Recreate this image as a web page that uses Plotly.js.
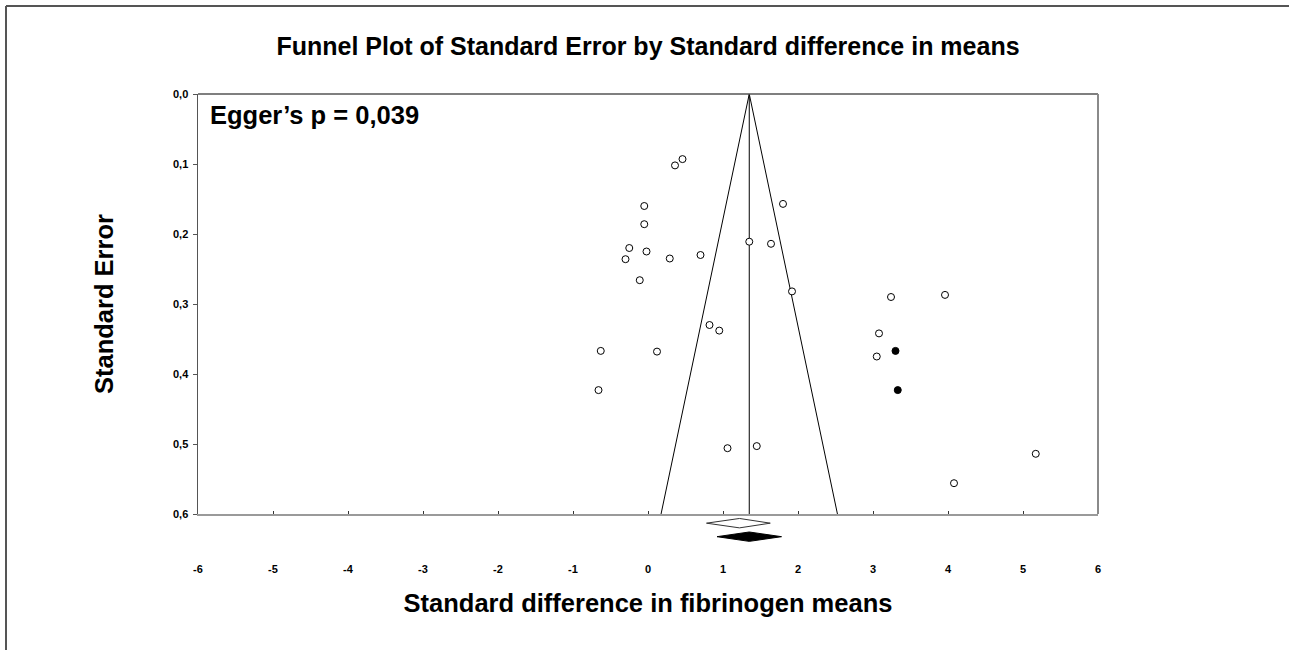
<!DOCTYPE html>
<html>
<head>
<meta charset="utf-8">
<script src="https://cdn.plot.ly/plotly-3.0.1.min.js"></script>
<style>html,body{margin:0;padding:0;background:#fff;}#chart{width:1289px;height:650px;}</style>
</head>
<body>
<div id="chart"></div>
<script>
// Observed studies: standard difference in means and standard error
var obsEffect = [0.46, 0.36, -0.05, 1.80, -0.05, 1.35, 1.64, -0.25, -0.02, -0.30, 0.29, 0.70, -0.11, 1.92,
                 0.82, 0.95, -0.63, 0.12, -0.66, 1.06, 1.45, 3.24, 3.96, 3.08, 3.05, 5.17, 4.08];
var obsSE     = [0.093, 0.102, 0.160, 0.157, 0.186, 0.211, 0.214, 0.220, 0.225, 0.236, 0.235, 0.230, 0.266, 0.282,
                 0.330, 0.338, 0.367, 0.368, 0.423, 0.506, 0.503, 0.290, 0.287, 0.342, 0.375, 0.514, 0.556];
// Imputed studies (trim and fill)
var impEffect = [3.30, 3.33];
var impSE     = [0.367, 0.423];
// Combined effect (funnel centre) and summary diamonds [lower, point, upper]
var funnelCenter = 1.35;
var zCrit = 1.96;
var seMax = 0.6;
var observedSummary = [0.78, 1.22, 1.63];
var adjustedSummary = [0.92, 1.35, 1.78];
var diamondRowObserved = 0.6131;
var diamondRowAdjusted = 0.6324;
var diamondHalfHeight = 0.0067;
// Tick labels
var xTickVals = [-6, -5, -4, -3, -2, -1, 0, 1, 2, 3, 4, 5, 6];
var xTickText = ['-6', '-5', '-4', '-3', '-2', '-1', '0', '1', '2', '3', '4', '5', '6'];
var yTickVals = [0, 0.1, 0.2, 0.3, 0.4, 0.5, 0.6];
var yTickText = ['0,0', '0,1', '0,2', '0,3', '0,4', '0,5', '0,6'];

function diamond(s, row, h) {
  return {x: [s[0], s[1], s[2], s[1], s[0]], y: [row, row - h, row, row + h, row]};
}
var dObs = diamond(observedSummary, diamondRowObserved, diamondHalfHeight);
var dAdj = diamond(adjustedSummary, diamondRowAdjusted, diamondHalfHeight);

var traces = [
  {x: [funnelCenter - zCrit * seMax, funnelCenter, funnelCenter + zCrit * seMax], y: [seMax, 0, seMax],
   mode: 'lines', line: {color: '#000', width: 1}, hoverinfo: 'skip', xaxis: 'x', yaxis: 'y'},
  {x: [funnelCenter, funnelCenter], y: [0, seMax], mode: 'lines', line: {color: '#000', width: 1},
   hoverinfo: 'skip', xaxis: 'x', yaxis: 'y'},
  {x: obsEffect, y: obsSE, mode: 'markers', type: 'scatter',
   marker: {symbol: 'circle', size: 7, color: '#fff', line: {color: '#000', width: 1}}, xaxis: 'x', yaxis: 'y'},
  {x: impEffect, y: impSE, mode: 'markers', type: 'scatter',
   marker: {symbol: 'circle', size: 7, color: '#000', line: {color: '#000', width: 1}}, xaxis: 'x', yaxis: 'y'},
  {x: dObs.x, y: dObs.y, mode: 'lines', fill: 'toself', fillcolor: '#fff', line: {color: '#333', width: 1},
   hoverinfo: 'skip', xaxis: 'x2', yaxis: 'y2'},
  {x: dAdj.x, y: dAdj.y, mode: 'lines', fill: 'toself', fillcolor: '#000', line: {color: '#000', width: 1},
   hoverinfo: 'skip', xaxis: 'x2', yaxis: 'y2'}
];

var F = 'Liberation Sans, Arial, sans-serif';
var layout = {
  width: 1289, height: 650,
  margin: {l: 198, r: 191, t: 94, b: 100},
  paper_bgcolor: '#fff', plot_bgcolor: 'rgba(0,0,0,0)',
  showlegend: false,
  title: {text: '<b>Funnel Plot of Standard Error by Standard difference in means</b>',
          font: {family: F, size: 25, color: '#000'}, x: 0.5, xref: 'paper', xanchor: 'center',
          y: 1 - 46 / 650, yref: 'container', yanchor: 'middle'},
  xaxis: {range: [-6, 6], anchor: 'y', tickvals: xTickVals, ticktext: xTickText, showgrid: false, zeroline: false,
          showline: true, linecolor: '#9a9a9a', linewidth: 2, ticks: 'inside', ticklen: 3, tickcolor: '#333', tickwidth: 1,
          ticklabelstandoff: 44, tickfont: {family: F, size: 11, color: '#000', weight: 'bold'},
          title: {text: '<b>Standard difference in fibrinogen means</b>', font: {family: F, size: 25.5, color: '#000'}, standoff: 20}},
  yaxis: {range: [0.6, 0], domain: [36 / 456, 1], anchor: 'x', tickvals: yTickVals, ticktext: yTickText,
          showgrid: false, zeroline: false, showline: true, linecolor: '#555', linewidth: 1.5,
          ticks: 'outside', ticklen: 4, tickcolor: '#555', tickwidth: 1, ticklabelstandoff: 2,
          tickfont: {family: F, size: 11, color: '#000', weight: 'bold'},
          title: {text: '<b>Standard Error</b>', font: {family: F, size: 25.5, color: '#000'}, standoff: 52}},
  xaxis2: {matches: 'x', anchor: 'y2', visible: false, range: [-6, 6]},
  yaxis2: {range: [0.6 + 36 / 700, 0.6], domain: [0, 36 / 456], anchor: 'x2', visible: false},
  annotations: [
    {text: '<b>Egger\u2019s p = 0,039</b>', xref: 'paper', yref: 'paper', x: 10 / 900, y: (550 - 115) / 456,
     xanchor: 'left', yanchor: 'middle', showarrow: false, font: {family: F, size: 25.5, color: '#000'}}
  ],
  shapes: [
    {type: 'line', xref: 'x domain', yref: 'y domain', x0: 0, x1: 1, y0: 1, y1: 1, line: {color: '#555', width: 1.5}},
    {type: 'line', xref: 'x domain', yref: 'y domain', x0: 1, x1: 1, y0: 0, y1: 1, line: {color: '#8a8a8a', width: 2}},
    {type: 'line', xref: 'paper', yref: 'paper', x0: -192 / 900, x1: 1091 / 900, y0: 544 / 456, y1: 544 / 456,
     line: {color: '#555', width: 2}},
    {type: 'line', xref: 'paper', yref: 'paper', x0: -192 / 900, x1: -192 / 900, y0: 544 / 456, y1: -100 / 456,
     line: {color: '#555', width: 2}}
  ]
};

Plotly.newPlot('chart', traces, layout, {displayModeBar: false, staticPlot: true});
</script>
</body>
</html>
